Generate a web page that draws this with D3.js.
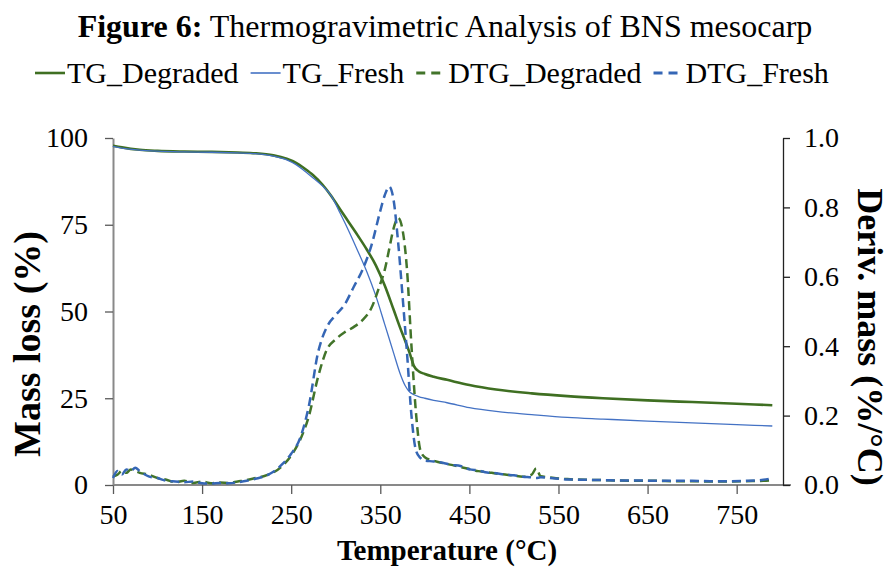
<!DOCTYPE html>
<html>
<head>
<meta charset="utf-8">
<script src="https://cdn.jsdelivr.net/npm/d3@7"></script>
<style>
  body{margin:0;background:#fff;}
</style>
</head>
<body>
<div class="canvas"></div>
<script>
// TG curves (mass loss %, left axis)
const tgTemp=[50,60,80,100,130,160,190,210,230,245,255,265,275,285,295,305,315,325,335,345,355,365,372,378,383,388,393,400,410,425,450,480,520,560,600,650,700,750,790];
const tgDegraded=[97.8,97.3,96.6,96.3,96.1,96.0,95.8,95.6,95.0,94.0,92.9,91.2,89.2,86.6,83.3,79.4,75.6,71.8,67.8,63.3,57.5,50.5,45.5,41.5,38.0,34.2,32.8,32.0,31.2,30.3,28.8,27.5,26.4,25.6,25.0,24.4,23.9,23.4,23.0];
const tgFresh=[97.6,97.1,96.5,96.2,96.0,95.9,95.7,95.5,94.8,93.7,92.4,90.5,88.4,86.2,83.3,78.3,73.0,67.3,61.4,54.5,46.3,38.0,32.3,28.6,26.8,26.0,25.5,25.0,24.4,23.7,22.3,21.2,20.3,19.5,19.0,18.4,17.9,17.4,17.0];

// DTG curves (%/°C, right axis)
const dtgTemp=[50,55,60,65,70,75,80,90,100,110,120,130,140,150,160,170,180,190,200,210,220,230,240,250,260,270,280,290,300,310,320,330,340,350,355,360,365,370,375,380,385,390,395,400,410,420,430,440,450,460,470,480,490,500,510,520,525,530,540,550,560,580,600,620,640,660,680,700,720,740,760,780,790];
const dtgDegraded=[0.025,0.03,0.04,0.035,0.045,0.04,0.035,0.03,0.02,0.015,0.008,0.012,0.006,0.01,0.005,0.007,0.006,0.01,0.014,0.02,0.026,0.036,0.055,0.085,0.13,0.2,0.31,0.39,0.42,0.44,0.455,0.475,0.51,0.58,0.62,0.68,0.74,0.77,0.735,0.62,0.40,0.21,0.10,0.08,0.07,0.063,0.058,0.052,0.046,0.04,0.037,0.033,0.03,0.027,0.024,0.03,0.048,0.025,0.022,0.019,0.017,0.015,0.014,0.013,0.012,0.012,0.011,0.011,0.01,0.01,0.011,0.012,0.014];
const dtgFresh=[0.02,0.04,0.03,0.045,0.04,0.05,0.04,0.025,0.02,0.012,0.01,0.008,0.01,0.005,0.004,0.006,0.005,0.008,0.012,0.018,0.025,0.038,0.06,0.09,0.135,0.23,0.38,0.455,0.49,0.52,0.57,0.62,0.69,0.79,0.835,0.86,0.82,0.7,0.544,0.38,0.2,0.1,0.078,0.07,0.068,0.064,0.058,0.055,0.045,0.042,0.036,0.034,0.03,0.028,0.024,0.022,0.02,0.022,0.02,0.018,0.016,0.015,0.014,0.013,0.013,0.012,0.012,0.012,0.011,0.011,0.012,0.015,0.02];

const xTicks=[50,150,250,350,450,550,650,750];
const yLeftTicks=[0,25,50,75,100];
const yRightTicks=[0,0.2,0.4,0.6,0.8,1.0];

const FONT='"Liberation Serif","Times New Roman",serif';
const W=892,H=573;
const svg=d3.select('.canvas').append('svg')
    .attr('width',W).attr('height',H);
svg.append('rect').attr('width',W).attr('height',H).attr('fill','#fff');

const plotL=113,plotR=783,plotT=138,plotB=485;
const x=d3.scaleLinear().domain([50,802]).range([plotL,plotR]);
const yL=d3.scaleLinear().domain([0,100]).range([plotB,plotT]);
const yR=d3.scaleLinear().domain([0,1]).range([plotB,plotT]);

// title
const title=svg.append('text').attr('x',445).attr('y',37)
    .attr('text-anchor','middle').style('font-size','32px');
title.append('tspan').attr('font-weight','bold').text('Figure 6:');
title.append('tspan').text(' Thermogravimetric Analysis of BNS mesocarp');

// series definitions
const series=[
  {name:'TG_Degraded',t:tgTemp,v:tgDegraded,y:yL,color:'#3f6f22',w:2.6,dash:null},
  {name:'TG_Fresh',t:tgTemp,v:tgFresh,y:yL,color:'#4472c4',w:1.3,dash:null},
  {name:'DTG_Degraded',t:dtgTemp,v:dtgDegraded,y:yR,color:'#42742a',w:2.5,dash:'9,5'},
  {name:'DTG_Fresh',t:dtgTemp,v:dtgFresh,y:yR,color:'#3566b5',w:2.5,dash:'9,5'}
];

// legend
let lx=35;
const leg=svg.append('g');
series.forEach(s=>{
  leg.append('line').attr('x1',lx).attr('x2',lx+30).attr('y1',73).attr('y2',73)
     .attr('stroke',s.color).attr('stroke-width',s.dash?3:(s.w>2?2.6:1.6))
     .attr('stroke-dasharray',s.dash?'9,6':null);
  const t=leg.append('text').attr('x',lx+32).attr('y',83).style('font-size','30px')
     .style('font-family',FONT).text(s.name);
  lx+=32+t.node().getComputedTextLength()+12;
});

// axes
const xAxisG=svg.append('g').attr('transform',`translate(0,${plotB})`)
  .call(d3.axisBottom(x).tickValues(xTicks).tickSize(9).tickSizeOuter(0).tickPadding(10));
const yAxisG=svg.append('g').attr('transform',`translate(${plotL},0)`)
  .call(d3.axisLeft(yL).tickValues(yLeftTicks).tickSize(8).tickSizeOuter(0).tickPadding(17));
const yRAxisG=svg.append('g').attr('transform',`translate(${plotR},0)`)
  .call(d3.axisRight(yR).tickValues(yRightTicks).tickSize(7).tickSizeOuter(0).tickPadding(14)
    .tickFormat(d3.format('.1f')));

xAxisG.select('.domain').attr('d',`M${plotL},0H${plotR+8}`);
[xAxisG,yAxisG].forEach(g=>{
  g.select('.domain').attr('stroke','#898989').attr('stroke-width',2);
  g.selectAll('.tick line').attr('stroke','#595959').attr('stroke-width',1.3);
});
yRAxisG.select('.domain').attr('stroke','#222').attr('stroke-width',1.3);
yRAxisG.selectAll('.tick line').attr('stroke','#222').attr('stroke-width',1.3);
[xAxisG,yAxisG,yRAxisG].forEach(g=>g.attr('font-family',null).attr('font-size',null));
svg.selectAll('.tick text').style('font-size','28px').style('fill','#000');
xAxisG.selectAll('.tick text').attr('dy','0.71em');

// lines
series.forEach(s=>{
  const line=d3.line().x((d,i)=>x(s.t[i])).y(d=>s.y(d)).curve(d3.curveMonotoneX);
  svg.append('path').datum(s.v).attr('d',line).attr('fill','none')
    .attr('stroke',s.color).attr('stroke-width',s.w)
    .attr('stroke-dasharray',s.dash);
});

// axis titles
svg.append('text').attr('transform','translate(40,344) rotate(-90)')
  .attr('text-anchor','middle').attr('font-weight','bold').style('font-size','38px')
  .text('Mass loss (%)');
svg.append('text').attr('transform','translate(858,337) rotate(90)')
  .attr('text-anchor','middle').attr('font-weight','bold').style('font-size','36px')
  .text('Deriv. mass (%/°C)');
svg.append('text').attr('x',447).attr('y',560)
  .attr('text-anchor','middle').attr('font-weight','bold').style('font-size','29px')
  .text('Temperature (°C)');

svg.selectAll('text').style('font-family',FONT).style('fill','#000');
</script>
</body>
</html>
